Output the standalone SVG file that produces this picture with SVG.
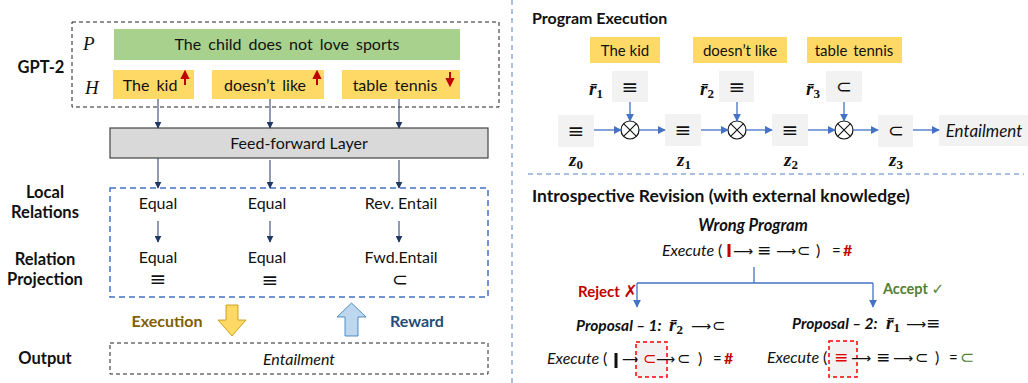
<svg xmlns="http://www.w3.org/2000/svg" width="1028" height="383" viewBox="0 0 1028 383">
<defs>
<marker id="ah" viewBox="0 0 10 10" refX="9" refY="5" markerWidth="7" markerHeight="7" orient="auto" markerUnits="userSpaceOnUse"><path d="M0,0 L10,5 L0,10 z" fill="#1f3864"/></marker>
<marker id="bh" viewBox="0 0 10 10" refX="9" refY="5" markerWidth="8" markerHeight="8" orient="auto" markerUnits="userSpaceOnUse"><path d="M0,0 L10,5 L0,10 z" fill="#4472c4"/></marker>
</defs>
<style>
text{font-family:Lato,"Liberation Sans","DejaVu Sans",sans-serif;fill:#111}
.t16{font-size:16px}
.b{font-weight:bold;font-size:16.5px}
.c{text-anchor:middle}
.it{font-style:italic}
.m{font-family:"Liberation Serif","DejaVu Serif",serif;font-style:italic;font-weight:bold}
.sym{font-family:"DejaVu Sans",sans-serif}
.nav{stroke:#1f3864;stroke-width:1;fill:none}
.blu{stroke:#4472c4;stroke-width:1.3;fill:none}
.gbox{fill:#f2f2f2}
.ybox{fill:#ffd966}
</style>

<!-- dividers -->
<line x1="512" y1="0" x2="512" y2="383" stroke="#8eaadb" stroke-width="1.5" stroke-dasharray="5,4"/>
<line x1="528" y1="174" x2="1024" y2="174" stroke="#8eaadb" stroke-width="1.5" stroke-dasharray="5,4"/>

<!-- LEFT PANEL -->
<g id="labels-left">
<text class="b c" x="41" y="73">GPT-2</text>
<text class="b c" x="45" y="198">Local</text>
<text class="b c" x="45" y="218">Relations</text>
<text class="b c" x="45" y="265">Relation</text>
<text class="b c" x="45" y="285">Projection</text>
<text class="b c" x="45" y="364">Output</text>
</g>

<g id="gpt2">
<rect x="72" y="22" width="427" height="85" fill="none" stroke="#222" stroke-dasharray="4,3"/>
<text x="83" y="50" style="font-family:'Liberation Serif',serif;font-style:italic;font-size:19px">P</text>
<text x="85" y="94" style="font-family:'Liberation Serif',serif;font-style:italic;font-size:19px">H</text>
</g>
<g id="premise">
<rect x="114" y="29" width="346" height="31" fill="#a9d18e"/>
<text class="t16 c" x="287" y="50" word-spacing="3">The child does not love sports</text>
</g>
<g id="h1">
<rect class="ybox" x="113" y="70" width="81" height="29"/>
<text class="t16 c" x="150" y="91" word-spacing="3">The kid</text>
<path d="M185,85 V77 M182,78 L185,72 L188,78 z" stroke="#c00000" stroke-width="2" fill="#c00000"/>
</g>
<g id="h2">
<rect class="ybox" x="212" y="70" width="112" height="29"/>
<text class="t16 c" x="265" y="91" word-spacing="3">doesn’t like</text>
<path d="M317,85 V77 M314,78 L317,72 L320,78 z" stroke="#c00000" stroke-width="2" fill="#c00000"/>
</g>
<g id="h3">
<rect class="ybox" x="342" y="70" width="118" height="29"/>
<text class="t16 c" x="395" y="91" word-spacing="3">table tennis</text>
<path d="M450,72 V80 M447,79 L450,85 L453,79 z" stroke="#c00000" stroke-width="2" fill="#c00000"/>
</g>
<g id="ffn">
<rect x="110" y="128" width="378" height="30" fill="#d9d9d9" stroke="#444" stroke-width="1.2"/>
<text class="t16 c" x="299" y="149">Feed-forward Layer</text>
</g>
<g id="relations">
<rect x="110" y="188" width="378" height="109" fill="none" stroke="#4472c4" stroke-width="1.5" stroke-dasharray="6,4"/>
<text class="t16 c" x="158" y="209">Equal</text>
<text class="t16 c" x="267" y="209">Equal</text>
<text class="t16 c" x="401" y="209">Rev. Entail</text>
<text class="t16 c" x="158" y="263">Equal</text>
<text class="t16 c" x="267" y="263">Equal</text>
<text class="t16 c" x="401" y="263">Fwd.Entail</text>
<text class="sym c" x="158" y="286" font-size="20">≡</text>
<text class="sym c" x="270" y="287" font-size="20">≡</text>
<text class="sym c" x="400" y="286" font-size="19">⊂</text>
</g>
<g id="exec-reward">
<path d="M226,305 H238 V320 H246 L232,336 L218,320 H226 z" fill="#ffd966" stroke="#bf9000" stroke-width="0.8"/>
<text class="b c" x="167" y="327" style="fill:#7f6000;font-size:16px">Execution</text>
<path d="M345,336 H358 V317 H366 L351.5,303 L337,317 H345 z" fill="#bdd7ee" stroke="#2e75b6" stroke-width="0.8"/>
<text class="b c" x="417" y="327" style="fill:#1f4e79;font-size:16px">Reward</text>
</g>
<g id="output">
<rect x="110" y="343" width="378" height="31" fill="none" stroke="#222" stroke-dasharray="4,3"/>
<text class="t16 c it" x="299" y="365">Entailment</text>
</g>
<g id="connectors-left">
<line class="nav" x1="158" y1="99" x2="158" y2="128" marker-end="url(#ah)"/>
<line class="nav" x1="270" y1="99" x2="270" y2="128" marker-end="url(#ah)"/>
<line class="nav" x1="399" y1="99" x2="399" y2="128" marker-end="url(#ah)"/>
<line class="nav" x1="158" y1="158" x2="158" y2="188" marker-end="url(#ah)"/>
<line class="nav" x1="270" y1="160" x2="270" y2="188" marker-end="url(#ah)"/>
<line class="nav" x1="399" y1="160" x2="399" y2="188" marker-end="url(#ah)"/>
<line class="nav" x1="158" y1="221" x2="158" y2="242" marker-end="url(#ah)"/>
<line class="nav" x1="270" y1="221" x2="270" y2="242" marker-end="url(#ah)"/>
<line class="nav" x1="399" y1="221" x2="399" y2="242" marker-end="url(#ah)"/>
</g>

<!-- RIGHT TOP -->
<text class="b" x="532" y="24" style="font-size:16px">Program Execution</text>
<g id="span1"><rect class="ybox" x="590" y="37" width="70" height="26"/><text class="c" x="625" y="56" font-size="15">The kid</text></g>
<g id="span2"><rect class="ybox" x="693" y="37" width="94" height="26"/><text class="c" x="740" y="56" font-size="15">doesn’t like</text></g>
<g id="span3"><rect class="ybox" x="807" y="37" width="95" height="26"/><text class="c" x="854" y="56" font-size="15" word-spacing="2">table tennis</text></g>

<g id="r1"><rect class="gbox" x="612" y="71" width="36" height="31"/><text class="sym c" x="630" y="94" font-size="20">≡</text>
<text class="m" x="589" y="95" font-size="19">r̄<tspan font-size="13" dy="3" font-style="normal">1</tspan></text></g>
<g id="r2"><rect class="gbox" x="719" y="71" width="35" height="31"/><text class="sym c" x="737" y="94" font-size="20">≡</text>
<text class="m" x="700" y="95" font-size="19">r̄<tspan font-size="13" dy="3" font-style="normal">2</tspan></text></g>
<g id="r3"><rect class="gbox" x="826" y="71" width="36" height="31"/><text class="sym c" x="844" y="93" font-size="19">⊂</text>
<text class="m" x="806" y="95" font-size="19">r̄<tspan font-size="13" dy="3" font-style="normal">3</tspan></text></g>

<g id="z0"><rect class="gbox" x="558" y="115" width="36" height="32"/><text class="sym c" x="576" y="138" font-size="20">≡</text>
<text class="m" x="569" y="166" font-size="19">z<tspan font-size="13" dy="3" font-style="normal">0</tspan></text></g>
<g id="z1"><rect class="gbox" x="665" y="114" width="36" height="32"/><text class="sym c" x="683" y="137" font-size="20">≡</text>
<text class="m" x="677" y="166" font-size="19">z<tspan font-size="13" dy="3" font-style="normal">1</tspan></text></g>
<g id="z2"><rect class="gbox" x="772" y="114" width="36" height="32"/><text class="sym c" x="790" y="137" font-size="20">≡</text>
<text class="m" x="784" y="166" font-size="19">z<tspan font-size="13" dy="3" font-style="normal">2</tspan></text></g>
<g id="z3"><rect class="gbox" x="878" y="115" width="35" height="32"/><text class="sym c" x="896" y="137" font-size="19">⊂</text>
<text class="m" x="889" y="166" font-size="19">z<tspan font-size="13" dy="3" font-style="normal">3</tspan></text></g>
<g id="result"><rect class="gbox" x="939" y="115" width="89" height="31"/><text class="c it" x="984" y="137" font-size="17">Entailment</text></g>

<g id="op1"><circle cx="630" cy="130" r="9" fill="#fff" stroke="#111" stroke-width="1.2"/><path d="M623.6,123.6 L636.4,136.4 M636.4,123.6 L623.6,136.4" stroke="#111" stroke-width="1.1"/></g>
<g id="op2"><circle cx="737" cy="130" r="9" fill="#fff" stroke="#111" stroke-width="1.2"/><path d="M730.6,123.6 L743.4,136.4 M743.4,123.6 L730.6,136.4" stroke="#111" stroke-width="1.1"/></g>
<g id="op3"><circle cx="844" cy="130" r="9" fill="#fff" stroke="#111" stroke-width="1.2"/><path d="M837.6,123.6 L850.4,136.4 M850.4,123.6 L837.6,136.4" stroke="#111" stroke-width="1.1"/></g>

<g id="connectors-right">
<line class="blu" x1="630" y1="102" x2="630" y2="121" marker-end="url(#bh)"/>
<line class="blu" x1="737" y1="102" x2="737" y2="121" marker-end="url(#bh)"/>
<line class="blu" x1="844" y1="102" x2="844" y2="121" marker-end="url(#bh)"/>
<line class="blu" x1="594" y1="130" x2="621" y2="130" marker-end="url(#bh)"/>
<line class="blu" x1="639" y1="130" x2="665" y2="130" marker-end="url(#bh)"/>
<line class="blu" x1="701" y1="130" x2="728" y2="130" marker-end="url(#bh)"/>
<line class="blu" x1="746" y1="130" x2="772" y2="130" marker-end="url(#bh)"/>
<line class="blu" x1="808" y1="130" x2="835" y2="130" marker-end="url(#bh)"/>
<line class="blu" x1="853" y1="130" x2="878" y2="130" marker-end="url(#bh)"/>
<line class="blu" x1="913" y1="130" x2="939" y2="130" marker-end="url(#bh)"/>
<path class="blu" d="M754,267 V283 M637,283 H873" />
<line class="blu" x1="637" y1="283" x2="637" y2="307" marker-end="url(#bh)"/>
<line class="blu" x1="873" y1="283" x2="873" y2="307" marker-end="url(#bh)"/>
</g>

<!-- RIGHT BOTTOM -->
<text class="b" x="532" y="202" style="font-size:17.5px">Introspective Revision (with external knowledge)</text>
<g id="wrong">
<text class="c it" x="753" y="231" font-size="16.5" font-weight="bold">Wrong Program</text>
<text class="it" x="662" y="256" font-size="16">Execute</text>
<text x="718" y="256" font-size="16">(</text>
<rect x="727.5" y="244" width="3" height="13" fill="#c00000"/>
<text class="sym" x="733" y="256" font-size="14">⟶</text>
<text class="sym" x="757" y="256" font-size="17">≡</text>
<text class="sym" x="776" y="256" font-size="14">⟶</text>
<text class="sym" x="797" y="256" font-size="16">⊂</text>
<text x="816" y="256" font-size="16">)</text>
<text x="832" y="256" font-size="15">=</text>
<text x="843" y="256" font-size="16" font-weight="bold" style="fill:#c00000">#</text>
</g>
<g id="reject"><text x="578" y="297" font-size="15" font-weight="bold" style="fill:#c00000">Reject <tspan class="sym" font-size="17">✗</tspan></text></g>
<g id="accept"><text x="883" y="294" font-size="14.5" font-weight="bold" style="fill:#538135">Accept <tspan class="sym" font-size="15">✓</tspan></text></g>

<g id="proposal1">
<text class="it" x="576" y="331" font-size="15.5" font-weight="bold">Proposal – 1:</text>
<text class="m" x="669" y="331" font-size="19">r̄<tspan font-size="13" dy="3" font-style="normal">2</tspan></text>
<text class="sym" x="691" y="331" font-size="14">⟶</text>
<text class="sym" x="712" y="331" font-size="16">⊂</text>
<rect x="636" y="342" width="31" height="35" fill="#f2f2f2" stroke="#ff0000" stroke-width="1.5" stroke-dasharray="4,3"/>
<text class="it" x="547" y="364" font-size="16">Execute</text>
<text x="603" y="364" font-size="16">(</text>
<rect x="614.5" y="353" width="3" height="15" fill="#111"/>
<text class="sym" x="622" y="364" font-size="14" textLength="16" lengthAdjust="spacingAndGlyphs">⟶</text>
<text class="sym" x="643" y="364" font-size="16" style="fill:#e00000">⊂</text>
<text class="sym" x="656" y="364" font-size="14" textLength="19" lengthAdjust="spacingAndGlyphs">⟶</text>
<text class="sym" x="677" y="364" font-size="16">⊂</text>
<text x="698" y="364" font-size="16">)</text>
<text x="713" y="364" font-size="15">=</text>
<text x="724" y="364" font-size="16" font-weight="bold" style="fill:#c00000">#</text>
</g>
<g id="proposal2">
<text class="it" x="792" y="329" font-size="15.5" font-weight="bold">Proposal – 2:</text>
<text class="m" x="886" y="329" font-size="19">r̄<tspan font-size="13" dy="3" font-style="normal">1</tspan></text>
<text class="sym" x="906" y="329" font-size="14">⟶</text>
<text class="sym" x="926" y="329" font-size="17">≡</text>
<rect x="829" y="341" width="28" height="36" fill="#f2f2f2" stroke="#ff0000" stroke-width="1.5" stroke-dasharray="4,3"/>
<text class="it" x="767" y="363" font-size="16">Execute</text>
<text x="823" y="363" font-size="16">(</text>
<text class="sym" x="834" y="363" font-size="17" style="fill:#e00000">≡</text>
<text class="sym" x="851" y="363" font-size="14">⟶</text>
<text class="sym" x="876" y="363" font-size="17">≡</text>
<text class="sym" x="893" y="363" font-size="14">⟶</text>
<text class="sym" x="915" y="363" font-size="16">⊂</text>
<text x="935" y="363" font-size="16">)</text>
<text x="949" y="363" font-size="15">=</text>
<text class="sym" x="960" y="363" font-size="17" style="fill:#538135">⊂</text>
</g>
</svg>
